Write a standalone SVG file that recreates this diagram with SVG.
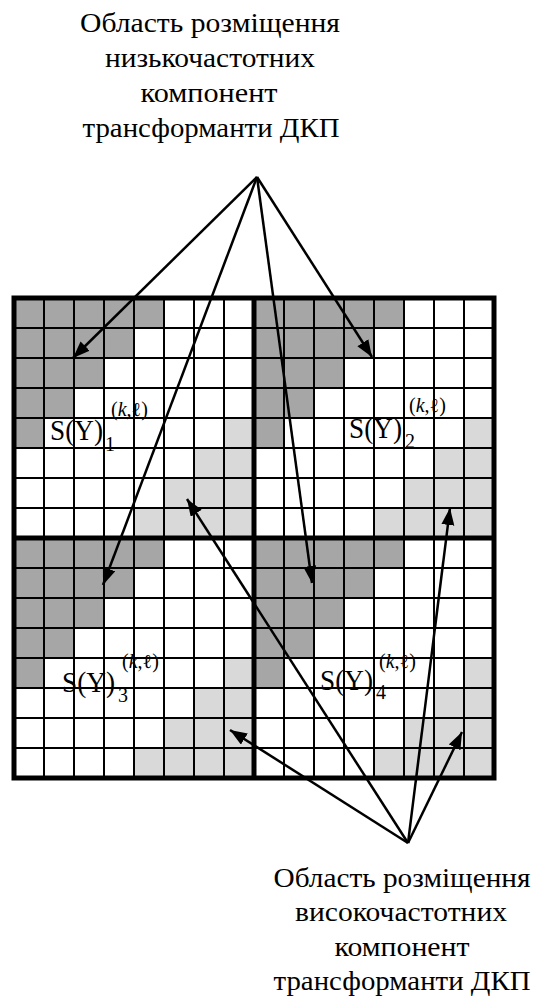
<svg xmlns="http://www.w3.org/2000/svg" xmlns:xlink="http://www.w3.org/1999/xlink" width="534" height="998" viewBox="0 0 534 998">
<style>
.t{font-family:"Liberation Serif","DejaVu Serif","Noto Serif",serif;font-size:27px;fill:#000;text-anchor:middle}
.s{font-family:"Liberation Serif","DejaVu Serif",serif;font-size:29px;fill:#000}
.sub{font-family:"Liberation Serif","DejaVu Serif",serif;font-size:20px;fill:#000}
.sup{font-family:"Liberation Serif","DejaVu Serif",serif;font-size:20px;fill:#000}
.dk{fill:#a6a6a6}
.lt{fill:#d9d9d9}
.thin{stroke:#000;stroke-width:2;fill:none}
.thick{stroke:#000;stroke-width:5;fill:none}
.arr{stroke:#000;stroke-width:2.5;fill:none;marker-end:url(#ah)}
</style>
<defs>
<marker id="ah" markerUnits="userSpaceOnUse" markerWidth="18" markerHeight="14" refX="17" refY="6.5" orient="auto">
<path d="M0,0 L17,6.5 L0,13 z" fill="#000"/>
</marker>
<g id="qfill">
<rect x="0" y="0" width="240" height="240" fill="#fff"/>
<polygon class="dk" points="0,0 150,0 150,30 120,30 120,60 90,60 90,90 60,90 60,120 30,120 30,150 0,150"/>
<polygon class="lt" points="240,120 240,240 120,240 120,210 150,210 150,180 180,180 180,150 210,150 210,120"/>
</g>
</defs>
<rect width="534" height="998" fill="#fff"/>
<g id="top-label">
<text class="t" x="210" y="32" textLength="260" lengthAdjust="spacingAndGlyphs">Область розміщення</text>
<text class="t" x="210" y="67" textLength="210" lengthAdjust="spacingAndGlyphs">низькочастотних</text>
<text class="t" x="209" y="102" textLength="137" lengthAdjust="spacingAndGlyphs">компонент</text>
<text class="t" x="211" y="137" textLength="257" lengthAdjust="spacingAndGlyphs">трансформанти ДКП</text>
</g>
<g id="grid">
<use xlink:href="#qfill" x="14" y="298"/>
<use xlink:href="#qfill" x="254" y="298"/>
<use xlink:href="#qfill" x="14" y="538"/>
<use xlink:href="#qfill" x="254" y="538"/>
<path class="thin" d="M44,298V778M74,298V778M104,298V778M134,298V778M164,298V778M194,298V778M224,298V778M284,298V778M314,298V778M344,298V778M374,298V778M404,298V778M434,298V778M464,298V778M14,328H494M14,358H494M14,388H494M14,418H494M14,448H494M14,478H494M14,508H494M14,568H494M14,598H494M14,628H494M14,658H494M14,688H494M14,718H494M14,748H494"/>
<rect class="thick" x="14" y="298" width="480" height="480"/>
<path class="thick" d="M254,298V778M14,538H494"/>
</g>
<g id="q1">
<text class="s" x="50" y="440" textLength="53" lengthAdjust="spacingAndGlyphs">S(Y)</text><text class="sub" x="105" y="451">1</text>
<text class="sup" x="111" y="416">(<tspan font-style="italic">k</tspan>,ℓ)</text>
</g>
<g id="q2">
<text class="s" x="349" y="438" textLength="53" lengthAdjust="spacingAndGlyphs">S(Y)</text><text class="sub" x="405" y="448">2</text>
<text class="sup" x="409" y="412">(<tspan font-style="italic">k</tspan>,ℓ)</text>
</g>
<g id="q3">
<text class="s" x="62" y="692" textLength="53" lengthAdjust="spacingAndGlyphs">S(Y)</text><text class="sub" x="118" y="702">3</text>
<text class="sup" x="122" y="668">(<tspan font-style="italic">k</tspan>,ℓ)</text>
</g>
<g id="q4">
<text class="s" x="320" y="690" textLength="53" lengthAdjust="spacingAndGlyphs">S(Y)</text><text class="sub" x="376" y="699">4</text>
<text class="sup" x="379" y="668">(<tspan font-style="italic">k</tspan>,ℓ)</text>
</g>
<g id="connectors">
<line class="arr" x1="257" y1="177" x2="73" y2="358"/>
<line class="arr" x1="257" y1="177" x2="372" y2="357"/>
<line class="arr" x1="257" y1="177" x2="103" y2="585"/>
<line class="arr" x1="257" y1="177" x2="312" y2="583"/>
<line class="arr" x1="408" y1="843" x2="187" y2="499"/>
<line class="arr" x1="408" y1="843" x2="450" y2="508"/>
<line class="arr" x1="408" y1="843" x2="230" y2="730"/>
<line class="arr" x1="408" y1="843" x2="462" y2="732"/>
</g>
<g id="bottom-label">
<text class="t" x="402" y="887" textLength="257" lengthAdjust="spacingAndGlyphs">Область розміщення</text>
<text class="t" x="401" y="921" textLength="212" lengthAdjust="spacingAndGlyphs">високочастотних</text>
<text class="t" x="402" y="956" textLength="135" lengthAdjust="spacingAndGlyphs">компонент</text>
<text class="t" x="402" y="990" textLength="257" lengthAdjust="spacingAndGlyphs">трансформанти ДКП</text>
</g>
</svg>
